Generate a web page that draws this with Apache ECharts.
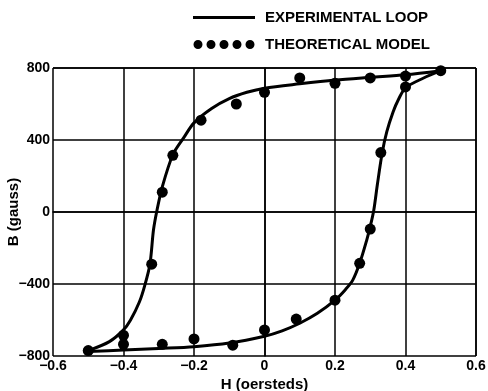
<!DOCTYPE html>
<html>
<head>
<meta charset="utf-8">
<script src="https://cdn.jsdelivr.net/npm/echarts@6/dist/echarts.min.js"></script>
<style>
  html, body { margin: 0; padding: 0; background: #fff; }
  #chart { width: 488px; height: 391px; }
</style>
</head>
<body>
<div id="chart"></div>
<script>
// experimental loop, descending branch (H from +0.5 to -0.5)
const upperH = [0.5, 0.4, 0.3, 0.2, 0.1, 0, -0.05, -0.1, -0.15, -0.2, -0.23, -0.26, -0.29, -0.305, -0.315, -0.325, -0.34, -0.355, -0.38, -0.4, -0.44, -0.5]
const upperB = [785, 762, 748, 733, 712, 688, 665, 630, 575, 495, 410, 318, 140, 10, -100, -290, -410, -500, -600, -655, -720, -770]
// experimental loop, ascending branch (H from -0.5 to +0.5)
const lowerH = [-0.5, -0.4, -0.3, -0.2, -0.1, 0, 0.05, 0.1, 0.15, 0.2, 0.23, 0.25, 0.27, 0.29, 0.3, 0.31, 0.32, 0.334, 0.347, 0.365, 0.38, 0.4, 0.45, 0.5]
const lowerB = [-775, -767, -758, -748, -728, -690, -660, -618, -563, -490, -430, -380, -285, -156, -80, 10, 150, 330, 446, 557, 625, 690, 743, 785]
// theoretical model points
const modelH = [-0.29, -0.26, -0.18, -0.08, 0, 0.1, 0.2, 0.3, 0.4, 0.4, 0.5, 0.33, 0.3, 0.27, 0.2, 0.09, 0, -0.32, -0.4, -0.4, -0.5, -0.29, -0.2, -0.09]
const modelB = [110, 315, 510, 600, 665, 745, 715, 745, 755, 695, 785, 330, -95, -285, -490, -595, -655, -290, -685, -735, -770, -735, -705, -740]

const xTicks = [-0.6, -0.4, -0.2, 0, 0.2, 0.4, 0.6]
const yTicks = [-800, -400, 0, 400, 800]

const zip = (a, b) => a.map((v, i) => [v, b[i]])
const fmt = v => (v < 0 ? '\u2212' : '') + String(Math.abs(v))

const dotsIcon = 'path://' + [4.5, 17.5, 30.5, 43.5, 56.5].map(c =>
  'M' + (c - 4.5) + ',4.5a4.5,4.5 0 1,0 9,0a4.5,4.5 0 1,0 -9,0Z').join(' ')
const lineIcon = 'path://M0,0L62,0L62,3L0,3Z'

const labelFont = { color: '#000', fontFamily: 'Liberation Sans', fontWeight: 'bold', fontSize: 14 }
const nameFont = { color: '#000', fontFamily: 'Liberation Sans', fontWeight: 'bold', fontSize: 15 }

const chart = echarts.init(document.getElementById('chart'))
chart.setOption({
  animation: false,
  backgroundColor: '#fff',
  legend: {
    orient: 'vertical',
    left: 188,
    top: 5,
    itemWidth: 62,
    itemHeight: 9,
    itemGap: 12,
    textStyle: { color: '#000', fontFamily: 'Liberation Sans', fontWeight: 'bold', fontSize: 15, padding: [0, 0, 0, 5] },
    data: [
      { name: 'EXPERIMENTAL LOOP', icon: lineIcon },
      { name: 'THEORETICAL MODEL', icon: dotsIcon }
    ]
  },
  grid: { left: 53, right: 12, top: 68, bottom: 35, outerBoundsMode: 'none', containLabel: false },
  xAxis: {
    type: 'value',
    min: -0.6,
    max: 0.6,
    interval: 0.2,
    name: 'H (oersteds)',
    nameLocation: 'middle',
    nameGap: 21,
    nameMoveOverlap: false,
    nameTextStyle: nameFont,
    axisLine: { show: true, lineStyle: { color: '#000', width: 1.5 } },
    axisTick: { show: false },
    axisLabel: Object.assign({ margin: 3, formatter: v => v === 0 ? '0' : (v < 0 ? '\u2212' : '') + Math.abs(v).toFixed(1) }, labelFont),
    splitLine: { show: true, lineStyle: { color: '#000', width: 1.5 } }
  },
  yAxis: {
    type: 'value',
    min: -800,
    max: 800,
    interval: 400,
    name: 'B (gauss)',
    nameLocation: 'middle',
    nameGap: 32,
    nameMoveOverlap: false,
    nameTextStyle: nameFont,
    axisLine: { show: true, lineStyle: { color: '#000', width: 1.5 } },
    axisTick: { show: false },
    axisLabel: Object.assign({ margin: 3, formatter: fmt }, labelFont),
    splitLine: { show: true, lineStyle: { color: '#000', width: 1.5 } }
  },
  series: [
    {
      name: 'EXPERIMENTAL LOOP',
      type: 'line',
      data: zip(upperH, upperB),
      smooth: 0.3,
      symbol: 'none',
      lineStyle: { color: '#000', width: 3 },
      itemStyle: { color: '#000' }
    },
    {
      name: 'EXPERIMENTAL LOOP',
      type: 'line',
      data: zip(lowerH, lowerB),
      smooth: 0.3,
      symbol: 'none',
      lineStyle: { color: '#000', width: 3 },
      itemStyle: { color: '#000' }
    },
    {
      name: 'THEORETICAL MODEL',
      type: 'scatter',
      data: zip(modelH, modelB),
      symbolSize: 11,
      itemStyle: { color: '#000', opacity: 1 },
      z: 3
    },
    {
      // right and top frame of the plot
      type: 'line',
      data: [],
      markLine: {
        silent: true,
        symbol: 'none',
        label: { show: false },
        lineStyle: { color: '#000', width: 1.5, type: 'solid' },
        data: [{ xAxis: xTicks[xTicks.length - 1] }, { yAxis: yTicks[yTicks.length - 1] }]
      }
    }
  ]
})
</script>
</body>
</html>
